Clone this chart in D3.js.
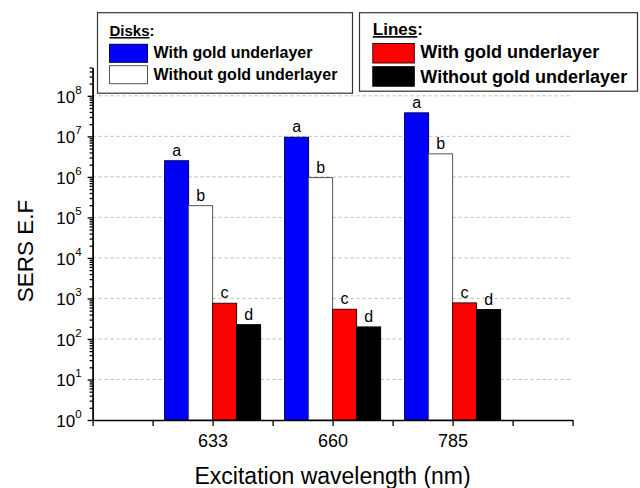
<!DOCTYPE html>
<meta charset="utf-8">
<style>
body { margin: 0; background: #fff; }
text { font-family: "Liberation Sans", Arial, Helvetica, sans-serif; fill: #000; }
.grid line { stroke: #bbb; stroke-dasharray: 3,3; }
.axis path, .axis line { stroke: #000; stroke-width: 1.3; }
.legend text { font-weight: bold; }
</style>
<svg width="640" height="488"></svg>
<script src="https://d3js.org/d3.v7.min.js"></script>
<script>

// data
var wavelengths = ["633", "660", "785"];
var disksGold = [2.5e6, 9.5e6, 3.8e7];
var disksNoGold = [1.95e5, 9.6e5, 3.7e6];
var linesGold = [760, 540, 776];
var linesNoGold = [225, 198, 530];
var barLetters = ["a", "b", "c", "d"];
var yDecades = [0, 1, 2, 3, 4, 5, 6, 7, 8];

var series = [
  {values: disksGold, fill: "#0000ff", stroke: "#000050", off: -0.4},
  {values: disksNoGold, fill: "#ffffff", stroke: "#555", off: -0.2},
  {values: linesGold, fill: "#ff0000", stroke: "#400", off: 0},
  {values: linesNoGold, fill: "#000000", stroke: "#000", off: 0.2}
];

var svg = d3.select("svg");

var x = d3.scaleLinear().domain([0, 4]).range([92.6, 572.6]);
var y = d3.scaleLog().domain([1, 5e8]).range([420, 67.5]);
var bw = 0.2;

// gridlines
svg.append("g").attr("class", "grid")
  .selectAll("line")
  .data(yDecades.slice(1))
  .enter().append("line")
    .attr("x1", x(0)).attr("x2", x(4))
    .attr("y1", function(d) { return y(Math.pow(10, d)); })
    .attr("y2", function(d) { return y(Math.pow(10, d)); });

// bars
series.forEach(function(s, si) {
  var g = svg.append("g");
  g.selectAll("rect")
    .data(s.values)
    .enter().append("rect")
      .attr("x", function(d, i) { return x(i + 1 + s.off); })
      .attr("width", x(bw) - x(0))
      .attr("y", function(d) { return y(d); })
      .attr("height", function(d) { return y(1) - y(d); })
      .attr("fill", s.fill)
      .attr("stroke", s.stroke)
      .attr("stroke-width", 1);
  g.selectAll("text")
    .data(s.values)
    .enter().append("text")
      .attr("x", function(d, i) { return x(i + 1 + s.off + bw / 2); })
      .attr("y", function(d) { return y(d) - 5; })
      .attr("text-anchor", "middle")
      .style("font-size", "16px")
      .text(barLetters[si]);
});

// y axis
var minor = [];
yDecades.forEach(function(d) {
  for (var k = 2; k <= 9; k++) {
    var v = k * Math.pow(10, d);
    if (v <= 5e8) minor.push(v);
  }
});

svg.append("g").attr("class", "axis")
  .attr("transform", "translate(" + x(0) + ",0)")
  .call(d3.axisLeft(y).tickValues(minor).tickSize(3).tickFormat("").tickSizeOuter(0));

var yAxis = svg.append("g").attr("class", "axis")
  .attr("transform", "translate(" + x(0) + ",0)")
  .call(d3.axisLeft(y).tickValues(yDecades.map(function(d) { return Math.pow(10, d); }))
    .tickSize(5).tickSizeOuter(0).tickFormat(""));

yAxis.selectAll(".tick").append("text")
  .attr("x", -11)
  .attr("y", 6.5)
  .attr("text-anchor", "end")
  .style("font-size", "17px")
  .each(function(d) {
    var t = d3.select(this);
    t.append("tspan").text("10");
    t.append("tspan").attr("dy", -9).style("font-size", "11.5px").text(Math.round(Math.log10(d)));
  });

// x axis
var xTicks = d3.range(0, 4.01, 0.5);
svg.append("g").attr("class", "axis")
  .attr("transform", "translate(0," + y(1) + ")")
  .call(d3.axisBottom(x).tickValues(xTicks).tickSize(6).tickSizeOuter(0)
    .tickFormat(function(d) { return (d % 1 === 0 && d >= 1 && d <= 3) ? wavelengths[d - 1] : ""; }))
  .selectAll("text")
    .attr("y", 27)
    .attr("dy", 0)
    .style("font-size", "18px")
    .style("font-family", "'Liberation Sans', Arial, sans-serif");

// axis titles
svg.append("text")
  .attr("x", (x(0) + x(4)) / 2)
  .attr("y", 484)
  .attr("text-anchor", "middle")
  .style("font-size", "23px")
  .text("Excitation wavelength (nm)");

svg.append("text")
  .attr("transform", "translate(33,251) rotate(-90)")
  .attr("text-anchor", "middle")
  .style("font-size", "22.5px")
  .text("SERS E.F");

// legends
var legends = [
  {title: "Disks", x: 97.5, y: 12.7, w: 255, h: 80.5, fs: 16, sw: 38, sh: 18, tx: 12, rows: [31.6, 53], base: [45.6, 67.3], tb: 23.3, items: [
    {label: "With gold underlayer", fill: "#0000ff", stroke: "#000050"},
    {label: "Without gold underlayer", fill: "#ffffff", stroke: "#555"}]},
  {title: "Lines", x: 359.5, y: 12.7, w: 278, h: 78.5, fs: 18, sw: 41.5, sh: 19.5, tx: 13.3, rows: [30.8, 54], base: [45.6, 70.6], tb: 22.3, items: [
    {label: "With gold underlayer", fill: "#ff0000", stroke: "#400"},
    {label: "Without gold underlayer", fill: "#000000", stroke: "#000"}]}
];

legends.forEach(function(L) {
  var g = svg.append("g").attr("class", "legend")
    .attr("transform", "translate(" + L.x + "," + L.y + ")");
  g.append("rect").attr("width", L.w).attr("height", L.h)
    .attr("fill", "#fff").attr("stroke", "#333").attr("stroke-width", 1.2);
  var t = g.append("text").attr("x", L.tx).attr("y", L.tb).style("font-size", (L.fs - 1) + "px");
  t.append("tspan").attr("text-decoration", "underline").text(L.title);
  t.append("tspan").text(":");
  L.items.forEach(function(it, i) {
    g.append("rect")
      .attr("x", L.tx).attr("y", L.rows[i])
      .attr("width", L.sw).attr("height", L.sh)
      .attr("fill", it.fill).attr("stroke", it.stroke);
    g.append("text")
      .attr("x", L.tx + L.sw + 6).attr("y", L.base[i])
      .style("font-size", L.fs + "px")
      .text(it.label);
  });
});

</script>
